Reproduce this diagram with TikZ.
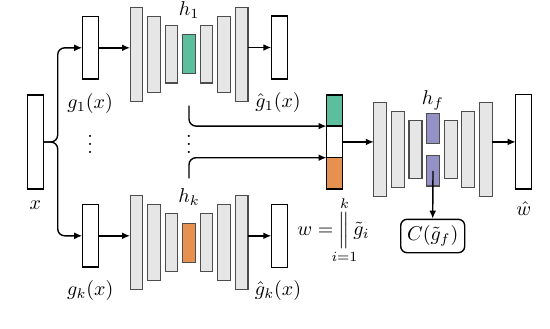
\documentclass[tikz,border=0pt]{standalone}
\usepackage{mathtools}
\usetikzlibrary{arrows.meta}
\definecolor{tealc}{HTML}{5DBE9E}
\definecolor{orangec}{HTML}{E69150}
\definecolor{purplec}{HTML}{9491C6}
\definecolor{barfill}{HTML}{E6E6E6}
\definecolor{bardraw}{HTML}{4D4D4D}
\tikzset{
  vbar/.style={draw=bardraw, fill=barfill, line width=0.55pt, inner sep=0pt, outer sep=0pt, minimum width=6.3pt},
  wbox/.style={draw=black, fill=white, line width=0.7pt, inner sep=0pt, outer sep=0pt, minimum width=8pt},
  arr/.style={-{Latex[length=4pt,width=3.4pt]}, line width=0.7pt},
  lbl/.style={inner sep=0pt},
}
\newcommand\mkenc[3]{%
  \node[vbar, minimum height=47pt]   (#1a) at (136.35,#2) {};
  \node[vbar, minimum height=38pt]   (#1b) at (153.9,#2) {};
  \node[vbar, minimum height=28.8pt] (#1c) at (171.45,#2) {};
  \node[vbar, fill=#3, minimum height=19.6pt] (#1m) at (189,#2) {};
  \node[vbar, minimum height=28.8pt] (#1e) at (206.55,#2) {};
  \node[vbar, minimum height=38pt]   (#1f) at (224.1,#2) {};
  \node[vbar, minimum height=47pt]   (#1g) at (241.65,#2) {};
}
\begin{document}
\begin{tikzpicture}[x=0.5pt,y=-0.5pt]
\useasboundingbox (0,0) rectangle (550,328);
% input
\node[wbox, minimum height=47pt] (xb) at (35.3,142) {};
\node[lbl] (xl) at (35.3,205) {$x$};
% g boxes
\node[wbox, minimum height=31.2pt] (g1) at (90.2,47.8) {};
\node[wbox, minimum height=31.2pt] (gk) at (90.2,235.8) {};
\node[lbl] (g1l) at (90.2,103) {$g_1(x)$};
\node[lbl] (gkl) at (90.2,290) {$g_k(x)$};
\node[lbl] (d1) at (90.2,138) {$\vdots$};
% encoders
\mkenc{e1}{54.2}{tealc}
\mkenc{ek}{242.7}{orangec}
\node[lbl] (h1l) at (189,10) {$h_1$};
\node[lbl] (hkl) at (189,197.5) {$h_k$};
\node[lbl] (d2) at (189,138) {$\vdots$};
% reconstructions
\node[wbox, minimum height=31.5pt] (gh1) at (279.3,47.5) {};
\node[wbox, minimum height=31.5pt] (ghk) at (279.3,235.8) {};
\node[lbl] (gh1l) at (278,102.5) {$\hat{g}_1(x)$};
\node[lbl] (ghkl) at (278,290) {$\hat{g}_k(x)$};
% concatenation
\node[wbox, fill=tealc, minimum height=15.6pt]   (ct) at (334.5,110.5) {};
\node[wbox, minimum height=15.9pt]               (cw) at (334.5,141.9) {};
\node[wbox, fill=orangec, minimum height=15.6pt] (co) at (334.5,173.3) {};
\node[lbl, anchor=west] (wl) at (297,230) {$w=\mathop{\Bigl\Vert}\limits_{\mathclap{i=1}}^{\mathclap{k}}\tilde{g}_i$};
% fusion network
\node[vbar, minimum width=6.5pt, minimum height=47pt]   (fa) at (380.3,149.7) {};
\node[vbar, minimum width=6.5pt, minimum height=38pt]   (fb) at (397.8,149.7) {};
\node[vbar, minimum width=6.5pt, minimum height=28.8pt] (fc) at (415.5,149.7) {};
\node[vbar, minimum width=6.3pt, fill=purplec, minimum height=15pt] (pu) at (433,128.3) {};
\node[vbar, minimum width=6.3pt, fill=purplec, minimum height=15.2pt] (pl) at (433,170.8) {};
\node[vbar, minimum width=6.5pt, minimum height=28.8pt] (fe) at (450.7,149.7) {};
\node[vbar, minimum width=6.5pt, minimum height=38pt]   (ff) at (468.2,149.7) {};
\node[vbar, minimum width=6.5pt, minimum height=47pt]   (fg) at (485.8,149.7) {};
\node[lbl] (hfl) at (432.7,100) {$h_f$};
\node[wbox, minimum height=47.2pt] (wh) at (523.7,141.9) {};
\node[lbl] (whl) at (523.7,209) {$\hat{w}$};
\node[draw, line width=0.7pt, rounded corners=3.2pt, inner sep=0pt, minimum width=32pt, minimum height=16.7pt] (C) at (432.7,236) {$C(\tilde{g}_f)$};
% connectors
\coordinate (br) at (57.7,142);
\draw[arr, rounded corners=3.5pt] (xb.east) -- (xb.east -| br) -- (br |- g1.west) -- (g1.west);
\draw[arr, rounded corners=3.5pt] (xb.east) -- (xb.east -| br) -- (br |- gk.west) -- (gk.west);
\draw[arr] (g1.east) -- (g1.east -| e1a.west);
\draw[arr] (gk.east) -- (gk.east -| eka.west);
\draw[arr] (e1g.east |- gh1.west) -- (gh1.west);
\draw[arr] (ekg.east |- ghk.west) -- (ghk.west);
\coordinate (s1) at (189,105.7);
\coordinate (s2) at (189,178.3);
\draw[arr, rounded corners=3.5pt] (s1) |- (ct.south west);
\draw[arr, rounded corners=3.5pt] (s2) |- (co.north west);
\draw[arr] (cw.east) -- (cw.east -| fa.west);
\draw[arr] (fg.east |- wh.west) -- (wh.west);
\draw[arr] (pl.center) -- (C.north);
\end{tikzpicture}
\end{document}
